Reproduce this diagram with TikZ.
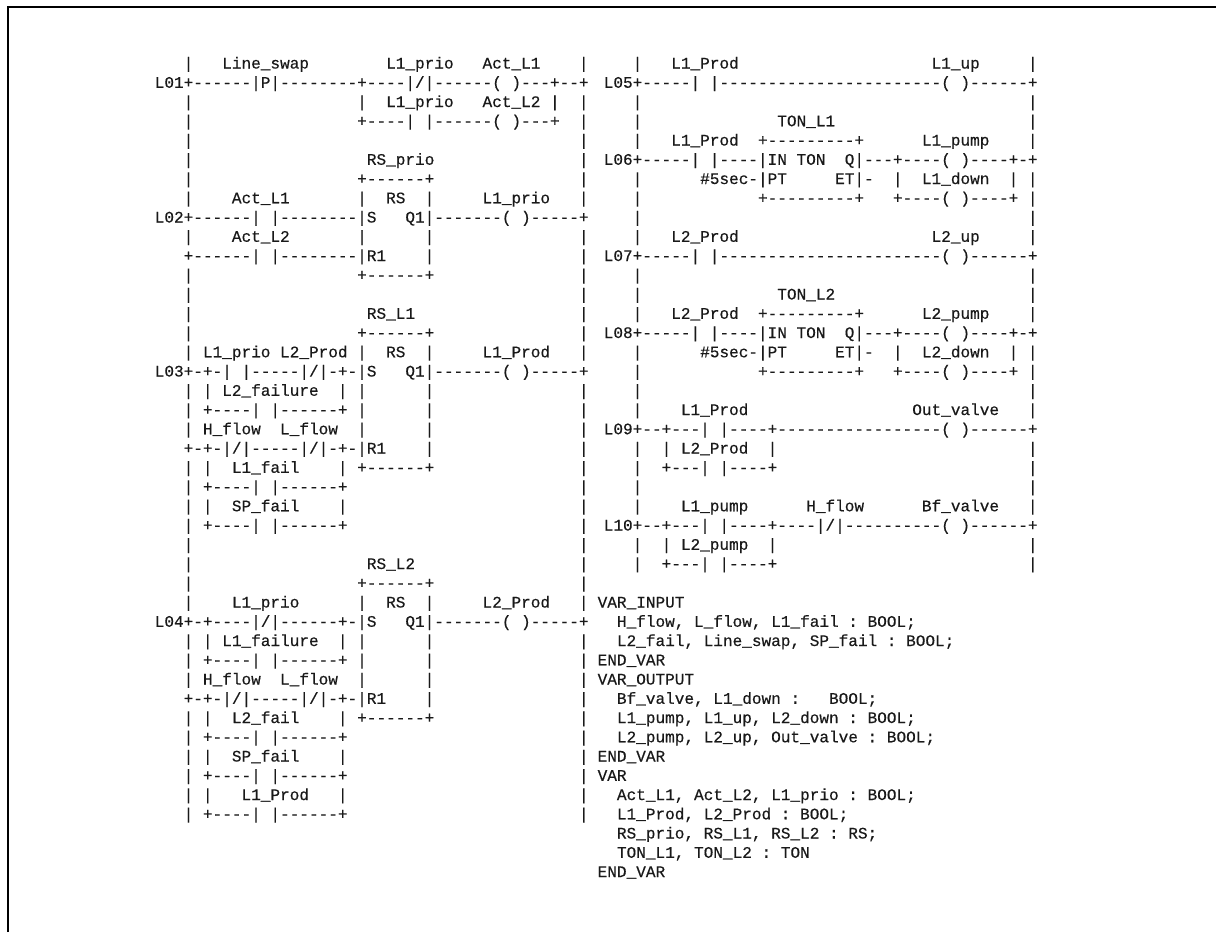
\documentclass[tikz,border=0pt]{standalone}
\usepackage{fontspec}
\setmonofont{Liberation Mono}[FakeBold=0.4]
\usetikzlibrary{positioning}

% listing rows, spaces and underscores kept as typed
\newcommand\defrow[2]{\expandafter\gdef\csname row#1\endcsname{#2}}
\begingroup
\catcode`\_=12\relax
\catcode`\#=12\relax
\obeyspaces\gdef {\ }%
\defrow{l0}{   |   Line_swap        L1_prio   Act_L1    |}
\defrow{l1}{L01+------|P|--------+----|/|------( )---+--+}
\defrow{l2}{   |                 |  L1_prio   Act_L2 |  |}
\defrow{l3}{   |                 +----| |------( )---+  |}
\defrow{l4}{   |                                        |}
\defrow{l5}{   |                  RS_prio               |}
\defrow{l6}{   |                 +------+               |}
\defrow{l7}{   |    Act_L1       |  RS  |     L1_prio   |}
\defrow{l8}{L02+------| |--------|S   Q1|-------( )-----+}
\defrow{l9}{   |    Act_L2       |      |               |}
\defrow{l10}{   +------| |--------|R1    |               |}
\defrow{l11}{   |                 +------+               |}
\defrow{l12}{   |                                        |}
\defrow{l13}{   |                  RS_L1                 |}
\defrow{l14}{   |                 +------+               |}
\defrow{l15}{   | L1_prio L2_Prod |  RS  |     L1_Prod   |}
\defrow{l16}{L03+-+-| |-----|/|-+-|S   Q1|-------( )-----+}
\defrow{l17}{   | | L2_failure  | |      |               |}
\defrow{l18}{   | +----| |------+ |      |               |}
\defrow{l19}{   | H_flow  L_flow  |      |               |}
\defrow{l20}{   +-+-|/|-----|/|-+-|R1    |               |}
\defrow{l21}{   | |  L1_fail    | +------+               |}
\defrow{l22}{   | +----| |------+                        |}
\defrow{l23}{   | |  SP_fail    |                        |}
\defrow{l24}{   | +----| |------+                        |}
\defrow{l25}{   |                                        |}
\defrow{l26}{   |                  RS_L2                 |}
\defrow{l27}{   |                 +------+               |}
\defrow{l28}{   |    L1_prio      |  RS  |     L2_Prod   |}
\defrow{l29}{L04+-+----|/|------+-|S   Q1|-------( )-----+}
\defrow{l30}{   | | L1_failure  | |      |               |}
\defrow{l31}{   | +----| |------+ |      |               |}
\defrow{l32}{   | H_flow  L_flow  |      |               |}
\defrow{l33}{   +-+-|/|-----|/|-+-|R1    |               |}
\defrow{l34}{   | |  L2_fail    | +------+               |}
\defrow{l35}{   | +----| |------+                        |}
\defrow{l36}{   | |  SP_fail    |                        |}
\defrow{l37}{   | +----| |------+                        |}
\defrow{l38}{   | |   L1_Prod   |                        |}
\defrow{l39}{   | +----| |------+                        |}
\defrow{r0}{   |   L1_Prod                    L1_up     |}
\defrow{r1}{L05+-----| |-----------------------( )------+}
\defrow{r2}{   |                                        |}
\defrow{r3}{   |              TON_L1                    |}
\defrow{r4}{   |   L1_Prod  +---------+      L1_pump    |}
\defrow{r5}{L06+-----| |----|IN TON  Q|---+----( )----+-+}
\defrow{r6}{   |      #5sec-|PT     ET|-  |  L1_down  | |}
\defrow{r7}{   |            +---------+   +----( )----+ |}
\defrow{r8}{   |                                        |}
\defrow{r9}{   |   L2_Prod                    L2_up     |}
\defrow{r10}{L07+-----| |-----------------------( )------+}
\defrow{r11}{   |                                        |}
\defrow{r12}{   |              TON_L2                    |}
\defrow{r13}{   |   L2_Prod  +---------+      L2_pump    |}
\defrow{r14}{L08+-----| |----|IN TON  Q|---+----( )----+-+}
\defrow{r15}{   |      #5sec-|PT     ET|-  |  L2_down  | |}
\defrow{r16}{   |            +---------+   +----( )----+ |}
\defrow{r17}{   |                                        |}
\defrow{r18}{   |    L1_Prod                 Out_valve   |}
\defrow{r19}{L09+--+---| |----+-----------------( )------+}
\defrow{r20}{   |  | L2_Prod  |                          |}
\defrow{r21}{   |  +---| |----+                          |}
\defrow{r22}{   |                                        |}
\defrow{r23}{   |    L1_pump      H_flow      Bf_valve   |}
\defrow{r24}{L10+--+---| |----+----|/|----------( )------+}
\defrow{r25}{   |  | L2_pump  |                          |}
\defrow{r26}{   |  +---| |----+                          |}
\defrow{v0}{VAR_INPUT}
\defrow{v1}{  H_flow, L_flow, L1_fail : BOOL;}
\defrow{v2}{  L2_fail, Line_swap, SP_fail : BOOL;}
\defrow{v3}{END_VAR}
\defrow{v4}{VAR_OUTPUT}
\defrow{v5}{  Bf_valve, L1_down :   BOOL;}
\defrow{v6}{  L1_pump, L1_up, L2_down : BOOL;}
\defrow{v7}{  L2_pump, L2_up, Out_valve : BOOL;}
\defrow{v8}{END_VAR}
\defrow{v9}{VAR}
\defrow{v10}{  Act_L1, Act_L2, L1_prio : BOOL;}
\defrow{v11}{  L1_Prod, L2_Prod : BOOL;}
\defrow{v12}{  RS_prio, RS_L1, RS_L2 : RS;}
\defrow{v13}{  TON_L1, TON_L2 : TON}
\defrow{v14}{END_VAR}
\endgroup

\begin{document}
\begin{tikzpicture}[x=0.75pt, y=-0.75pt,
    listrow/.style={anchor=base west, inner sep=0pt, text=black!90,
      font=\ttfamily\fontsize{12.05}{14}\selectfont}]
    \useasboundingbox (0,0) rectangle (1216,932);

    % frame
    \draw[line width=1.5pt] (7.7,932) -- (7.7,7) -- (1216,7);

    % left ladder, L01 to L04
    \foreach \i in {0,...,39}
        \node[listrow] (l\i) at (154.5, 68.5+19.25*\i) {\csname rowl\i\endcsname};

    % right ladder, L05 to L10
    \foreach \i in {0,...,26}
        \node[listrow] (r\i) at (603.5, 68.5+19.25*\i) {\csname rowr\i\endcsname};

    % declarations
    \foreach \i in {0,...,14}
        \node[listrow] (v\i) at (597.4, 607.5+19.25*\i) {\csname rowv\i\endcsname};
\end{tikzpicture}
\end{document}
